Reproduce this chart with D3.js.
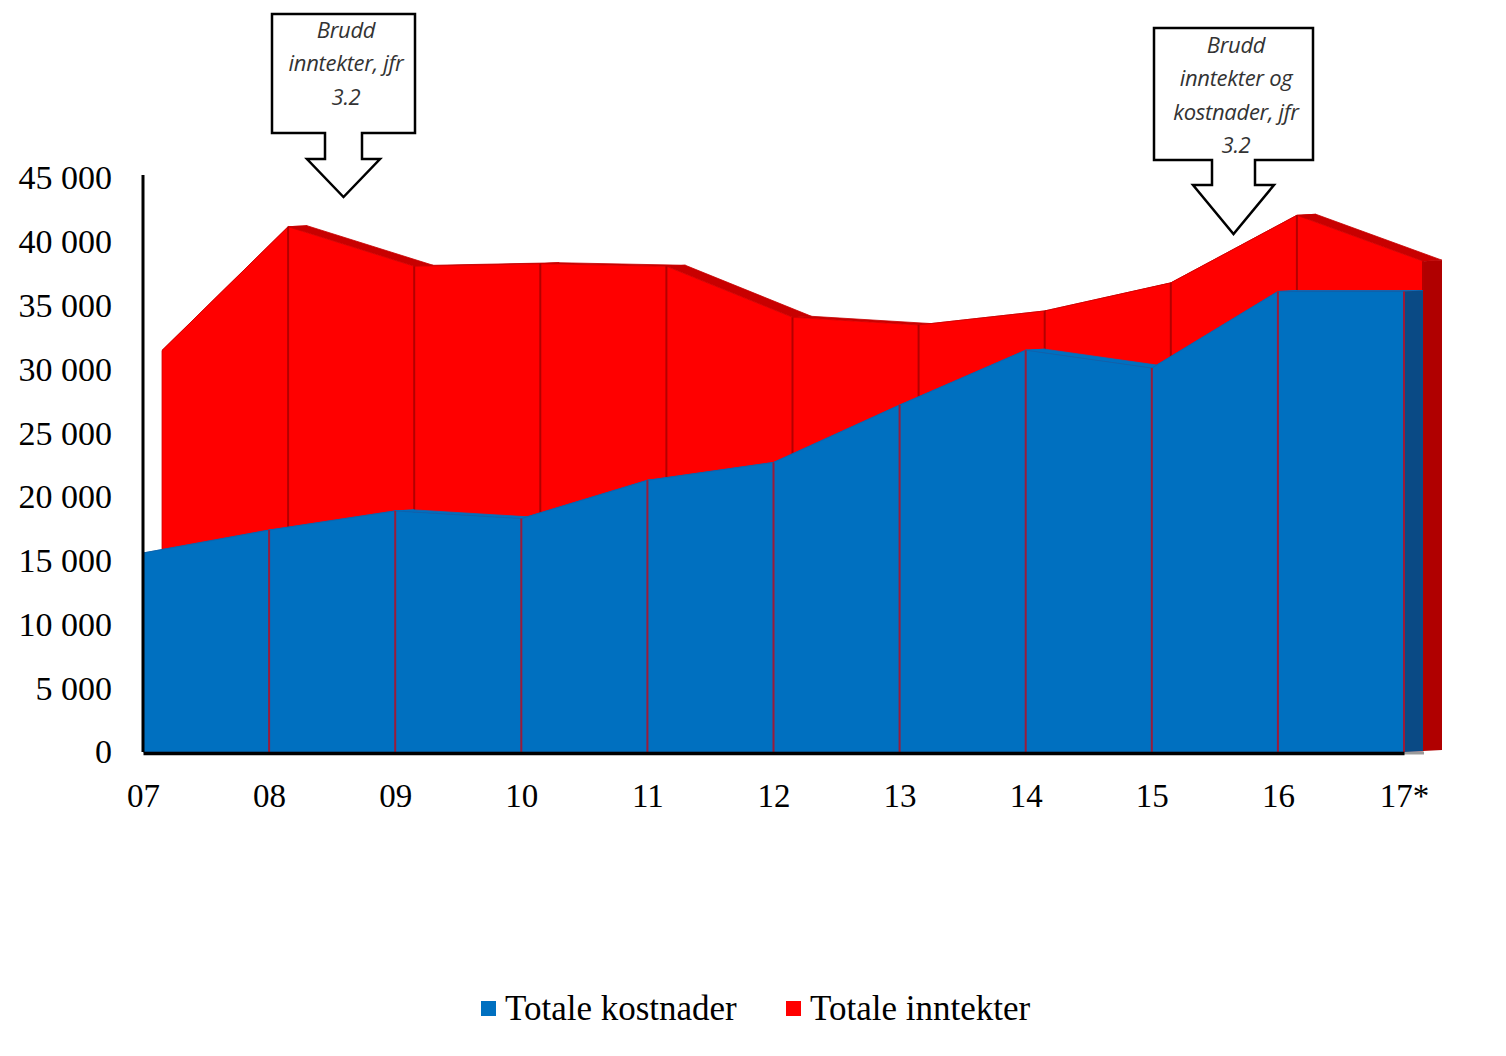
<!DOCTYPE html>
<html>
<head>
<meta charset="utf-8">
<script src="https://cdn.jsdelivr.net/npm/d3@7"></script>
<style>
  body { margin: 0; background: #fff; }
  svg { display: block; }
</style>
</head>
<body>
<div id="chart"></div>
<script>
const years = ["07", "08", "09", "10", "11", "12", "13", "14", "15", "16", "17*"];
const kostnader = [15600, 17400, 18900, 18300, 21300, 22700, 27200, 31500, 30100, 36100, 36100];
const inntekter = [31400, 41100, 38000, 38200, 38000, 34000, 33400, 34500, 36700, 42000, 38400];
const yTicks = [0, 5000, 10000, 15000, 20000, 25000, 30000, 35000, 40000, 45000];
const seriesNames = ["Totale kostnader", "Totale inntekter"];

const width = 1506;
const height = 1056;
const depth = { dx: 19, dy: -1 };

const svg = d3.select("#chart")
    .append("svg")
    .attr("width", width)
    .attr("height", height);

const x = d3.scalePoint()
    .domain(years)
    .range([143, 1404]);

const y = d3.scaleLinear()
    .domain([0, 45000])
    .range([752, 178]);

// draws one 3D area row; shift = how many depth steps back the row sits
function drawRow(values, shift, cols) {
    const ox = depth.dx * shift;
    const oy = depth.dy * shift;
    const front = years.map((yr, i) => [x(yr) + ox, y(values[i]) + oy]);
    const back = front.map(p => [p[0] + depth.dx, p[1] + depth.dy]);
    const base = y(0) + oy;
    const g = svg.append("g");

    // top faces
    for (let i = 0; i < front.length - 1; i++) {
        g.append("path")
            .attr("d", d3.line()([front[i], front[i + 1], back[i + 1], back[i]]) + "Z")
            .attr("fill", cols.top)
            .attr("stroke", cols.top)
            .attr("stroke-width", 0.8);
    }

    // right side face
    const last = front[front.length - 1];
    const lastBack = back[back.length - 1];
    g.append("path")
        .attr("d", d3.line()([last, lastBack, [lastBack[0], base + depth.dy], [last[0], base]]) + "Z")
        .attr("fill", cols.side);

    // front face
    const area = d3.area()
        .x(d => d[0])
        .y0(base)
        .y1(d => d[1]);
    g.append("path")
        .datum(front)
        .attr("d", area)
        .attr("fill", cols.front)
        .attr("stroke", cols.edge)
        .attr("stroke-width", 0.8);

    // dividers
    g.selectAll("line.div")
        .data(front.slice(1))
        .enter()
        .append("line")
        .attr("x1", d => d[0])
        .attr("x2", d => d[0])
        .attr("y1", d => d[1])
        .attr("y2", base)
        .attr("stroke", cols.div)
        .attr("stroke-width", 2);
}

drawRow(inntekter, 1, { front: "#FF0000", top: "#C80000", side: "#B00000", edge: "#D00000", div: "#B40000" });

// floor strip under the blue side
svg.append("line")
    .attr("x1", 1404).attr("x2", 1424)
    .attr("y1", 753).attr("y2", 753)
    .attr("stroke", "#9a9a9a")
    .attr("stroke-width", 3);

drawRow(kostnader, 0, { front: "#0070C0", top: "#0070C0", side: "#0A4A85", edge: "#1060A8", div: "#9A1B3A" });

// axes
const fmt = d => d3.format(",")(d).replace(",", " ");

const yAxis = svg.append("g")
    .attr("transform", "translate(143,0)")
    .call(d3.axisLeft(y).tickValues(yTicks).tickFormat(fmt).tickSize(0).tickPadding(31));
yAxis.select(".domain")
    .attr("d", `M0,${y(0)}V175`)
    .attr("stroke", "#000")
    .attr("stroke-width", 3);
yAxis.selectAll("text")
    .style("font-family", "'Liberation Serif', 'Times New Roman', serif")
    .style("font-size", "34px")
    .attr("fill", "#000");

const xAxis = svg.append("g")
    .attr("transform", `translate(0,${y(0) + 1})`)
    .call(d3.axisBottom(x).tickSize(0).tickPadding(31));
xAxis.select(".domain")
    .attr("stroke", "#000")
    .attr("stroke-width", 3.5);
xAxis.selectAll("text")
    .style("font-family", "'Liberation Serif', 'Times New Roman', serif")
    .style("font-size", "33px")
    .attr("fill", "#000");

// callouts
const callouts = [
    { box: [272, 14, 415, 133], shaft: [325, 362], head: [307, 380], neck: 159, tip: 197, cx: 346, lines: ["Brudd", "inntekter, jfr", "3.2"], y0: 38 },
    { box: [1154, 28, 1313, 160], shaft: [1212, 1255], head: [1193, 1274], neck: 185, tip: 234, cx: 1236, lines: ["Brudd", "inntekter og", "kostnader, jfr", "3.2"], y0: 53 }
];

callouts.forEach(c => {
    const [x0, y0, x1, y1] = c.box;
    const tipX = (c.head[0] + c.head[1]) / 2;
    const p = `M${x0},${y0}H${x1}V${y1}H${c.shaft[1]}V${c.neck}H${c.head[1]}L${tipX},${c.tip}L${c.head[0]},${c.neck}H${c.shaft[0]}V${y1}H${x0}Z`;
    svg.append("path")
        .attr("d", p)
        .attr("fill", "#fff")
        .attr("stroke", "#000")
        .attr("stroke-width", 2.5)
        .attr("stroke-linejoin", "miter");
    c.lines.forEach((t, i) => {
        svg.append("text")
            .attr("x", c.cx)
            .attr("y", c.y0 + i * 33.3)
            .attr("text-anchor", "middle")
            .style("font-family", "'Open Sans', Lato, sans-serif")
            .style("font-style", "italic")
            .style("font-size", "22px")
            .style("letter-spacing", "-0.3px")
            .attr("fill", "#333")
            .text(t);
    });
});

// legend
const legend = [
    { name: seriesNames[0], color: "#0070C0", x: 481 },
    { name: seriesNames[1], color: "#FF0000", x: 786 }
];
legend.forEach(l => {
    svg.append("rect")
        .attr("x", l.x)
        .attr("y", 1001)
        .attr("width", 15)
        .attr("height", 15)
        .attr("fill", l.color);
    svg.append("text")
        .attr("x", l.x + 24)
        .attr("y", 1020)
        .style("font-family", "'Liberation Serif', 'Times New Roman', serif")
        .style("font-size", "35px")
        .attr("fill", "#000")
        .text(l.name);
});
</script>
</body>
</html>
